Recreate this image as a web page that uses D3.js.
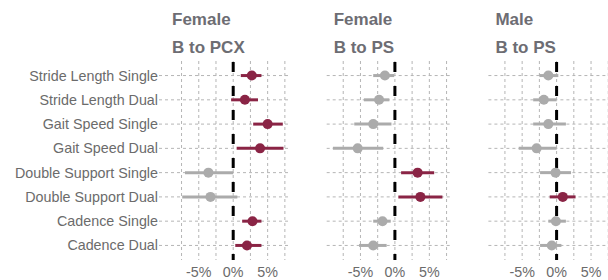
<!DOCTYPE html>
<html><head><meta charset="utf-8">
<script src="https://cdn.jsdelivr.net/npm/d3@7"></script>
<style>body{margin:0;background:#fff}svg{display:block}</style>
</head><body>
<script>
const categories = ["Stride Length Single","Stride Length Dual","Gait Speed Single","Gait Speed Dual","Double Support Single","Double Support Dual","Cadence Single","Cadence Dual"];
const panelTitles = [["Female","B to PCX"],["Female","B to PS"],["Male","B to PS"]];
const xTicks = [-5,0,5];
const xTickLabels = ["-5%","0%","5%"];
const xMinor = [-7.5,-2.5,2.5,7.5];
// estimates, lower and upper bounds (%), significance flag per panel
const est1 = [2.7,1.7,5.0,3.9,-3.6,-3.3,2.8,2.0];
const lo1  = [1.1,-0.3,2.9,0.5,-7.0,-7.4,1.3,0.3];
const hi1  = [4.1,3.6,7.2,7.3,0.0,0.6,4.1,4.1];
const sig1 = [1,1,1,1,0,0,1,1];
const est2 = [-1.45,-2.3,-3.15,-5.4,3.3,3.7,-1.8,-3.15];
const lo2  = [-3.15,-4.5,-5.9,-9.0,0.9,0.5,-3.15,-5.2];
const hi2  = [-0.1,-0.8,-0.5,-1.7,5.7,6.9,-0.6,-1.2];
const sig2 = [0,0,0,0,1,1,0,0];
const est3 = [-1.2,-1.85,-1.2,-2.9,-0.15,0.9,-0.1,-0.7];
const lo3  = [-2.5,-3.4,-3.4,-5.5,-2.4,-1.0,-1.2,-2.4];
const hi3  = [0.25,0.0,1.35,0.0,2.1,2.75,1.35,0.7];
const sig3 = [0,0,0,0,0,1,0,0];

const panels = [
  {est:est1, lo:lo1, hi:hi1, sig:sig1},
  {est:est2, lo:lo2, hi:hi2, sig:sig2},
  {est:est3, lo:lo3, hi:hi3, sig:sig3}
];

const W = 608, H = 280;
const panelLefts = [165, 326.7, 488.4];
const panelW = 124, pTop = 61, pBottom = 260;
const maroon = "#8a2445", grey = "#ababab";
const gridCol = "#b5b5b5";
const font = "'Liberation Sans', Arial, sans-serif";

const svg = d3.select("body").append("svg").attr("width", W).attr("height", H);
const x = d3.scaleLinear().domain([-9.9, 8.1]).range([0, panelW]);
const y = d3.scalePoint().domain(categories).range([pTop, pBottom]).padding(0.6);

svg.append("g").selectAll("text").data(categories).join("text")
  .attr("x", 158).attr("y", d => y(d)).attr("dy", "0.35em")
  .attr("text-anchor", "end").attr("font-family", font).attr("font-size", 14.3)
  .attr("fill", "#6b6b6b").text(d => d);

panels.forEach((p, pi) => {
  const g = svg.append("g").attr("transform", `translate(${panelLefts[pi]},0)`);
  g.append("text").attr("x", 7).attr("y", 25).attr("font-family", font)
    .attr("font-weight", "bold").attr("font-size", 17).attr("fill", "#6d6d73").text(panelTitles[pi][0]);
  g.append("text").attr("x", 7).attr("y", 53).attr("font-family", font)
    .attr("font-weight", "bold").attr("font-size", 17).attr("fill", "#6d6d73").text(panelTitles[pi][1]);
  g.append("g").selectAll("line").data(xTicks.concat(xMinor)).join("line")
    .attr("x1", d => x(d)).attr("x2", d => x(d)).attr("y1", pTop).attr("y2", pBottom)
    .attr("stroke", gridCol).attr("stroke-width", 1).attr("stroke-dasharray", "3,3");
  const x0 = pi === 0 ? -6 : 0;
  g.append("g").selectAll("line").data(categories).join("line")
    .attr("x1", x0).attr("x2", panelW).attr("y1", d => y(d)).attr("y2", d => y(d))
    .attr("stroke", gridCol).attr("stroke-width", 1).attr("stroke-dasharray", "3,3");
  g.append("line").attr("x1", x(0)).attr("x2", x(0)).attr("y1", pBottom).attr("y2", pTop)
    .attr("stroke", "#000").attr("stroke-width", 3).attr("stroke-dasharray", "10,14")
    .attr("stroke-dashoffset", 4);
  g.append("g").selectAll("text").data(xTicks).join("text")
    .attr("x", d => x(d)).attr("y", 277).attr("text-anchor", "middle")
    .attr("font-family", font).attr("font-size", 14.3).attr("fill", "#6b6b6b")
    .text((d, i) => xTickLabels[i]);
  const rows = categories.map((c, i) => ({c, est:p.est[i], lo:p.lo[i], hi:p.hi[i], sig:p.sig[i]}));
  g.append("g").selectAll("line").data(rows).join("line")
    .attr("x1", d => x(d.lo)).attr("x2", d => x(d.hi)).attr("y1", d => y(d.c)).attr("y2", d => y(d.c))
    .attr("stroke", d => d.sig ? maroon : grey).attr("stroke-width", 3);
  g.append("g").selectAll("circle").data(rows).join("circle")
    .attr("cx", d => x(d.est)).attr("cy", d => y(d.c)).attr("r", 5)
    .attr("fill", d => d.sig ? maroon : grey);
});
</script>
</body></html>
